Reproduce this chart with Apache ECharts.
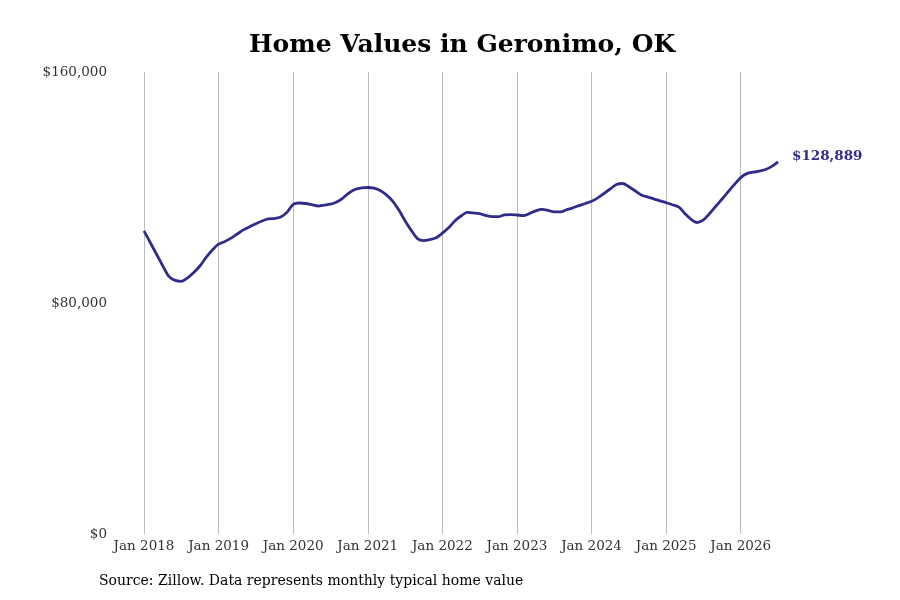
<!DOCTYPE html>
<html lang="en">
<head>
    <meta charset="utf-8">
    <title>Home Values in Geronimo, OK</title>
    <script src="https://cdn.jsdelivr.net/npm/echarts@6/dist/echarts.min.js"></script>
    <style>
        html, body { margin: 0; padding: 0; background: #fff; }
        #chart { width: 900px; height: 600px; }
    </style>
</head>
<body>
<div id="chart"></div>
<script type="text/javascript">
    // monthly typical home value, Jan 2018 .. Jul 2026
    var startYear = 2018;
    var values = [
        105000, 100950, 96970, 92950, 89210, 87830, 87510, 88690, 90560, 92810, 95790, 98350,
        100360, 101300, 102470, 103900, 105320, 106390, 107460, 108400, 109120, 109260, 109780, 111380,
        114180, 114630, 114460, 114040, 113590, 113900, 114220, 114980, 116330, 118160, 119370, 119890,
        120000, 119760, 118960, 117440, 115290, 112170, 108500, 105140, 102300, 101610, 101960, 102580,
        104170, 106040, 108400, 110130, 111380, 111200, 110930, 110270, 109890, 109890, 110510, 110620,
        110480, 110270, 110960, 111890, 112450, 112100, 111550, 111550, 112280, 112970, 113730, 114460,
        115220, 116400, 117920, 119480, 121040, 121390, 120280, 118860, 117440, 116740, 116090, 115390,
        114730, 114010, 113280, 111030, 109020, 107880, 108810, 111000, 113520, 116020, 118580, 121070,
        123430, 124810, 125300, 125640, 126230, 127310, 128889
    ];
    var monthNames = ['Jan', 'Feb', 'Mar', 'Apr', 'May', 'Jun', 'Jul', 'Aug', 'Sep', 'Oct', 'Nov', 'Dec'];
    var months = values.map(function (v, i) {
        return monthNames[i % 12] + ' ' + (startYear + Math.floor(i / 12));
    });
    var yTicks = [0, 80000, 160000];

    var font = '"DejaVu Serif", serif';
    var lineColor = '#302c8a';

    function money(v) {
        return '$' + v.toLocaleString('en-US');
    }
    function isJan(i) {
        return i % 12 === 0;
    }

    var chart = echarts.init(document.getElementById('chart'));
    chart.setOption({
        animation: false,
        textStyle: {fontFamily: font},
        title: {
            text: 'Home Values in Geronimo, OK',
            left: 244,
            top: 28,
            textStyle: {fontFamily: font, fontSize: 25, fontWeight: 'bold', color: '#000'}
        },
        graphic: [{
            type: 'text',
            left: 99,
            top: 574,
            style: {text: 'Source: Zillow. Data represents monthly typical home value', font: '14px ' + font, fill: '#000'}
        }],
        grid: {left: 144, right: 122, top: 72, bottom: 66},
        xAxis: {
            type: 'category',
            data: months,
            boundaryGap: false,
            axisLine: {show: false},
            axisTick: {show: false},
            axisLabel: {
                interval: function (i) { return isJan(i); },
                margin: 5,
                fontSize: 13.5,
                color: '#333',
                fontFamily: font
            },
            splitLine: {
                show: true,
                interval: function (i) { return isJan(i); },
                lineStyle: {color: '#bdbdbd', width: 1}
            }
        },
        yAxis: {
            type: 'value',
            min: yTicks[0],
            max: yTicks[yTicks.length - 1],
            interval: yTicks[1] - yTicks[0],
            axisLine: {show: false},
            axisTick: {show: false},
            splitLine: {show: false},
            axisLabel: {
                margin: 37,
                fontSize: 13.5,
                color: '#333',
                fontFamily: font,
                formatter: money
            }
        },
        series: [{
            type: 'line',
            data: values,
            smooth: 0.3,
            showSymbol: false,
            lineStyle: {color: lineColor, width: 2.8},
            itemStyle: {color: lineColor},
            endLabel: {
                show: true,
                distance: 14,
                offset: [0, -5],
                formatter: function (p) { return money(p.value); },
                fontFamily: font,
                fontSize: 13.5,
                fontWeight: 'bold',
                color: lineColor
            }
        }]
    });
</script>
</body>
</html>
